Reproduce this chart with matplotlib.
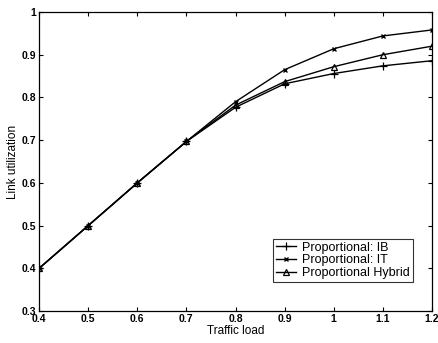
import numpy as np
import matplotlib.pyplot as plt

plt.rcParams['font.family'] = ['Liberation Sans', 'DejaVu Sans']

# traffic load vs. link utilization for the three schemes
load = [0.4, 0.5, 0.6, 0.7, 0.8, 0.9, 1.0, 1.1, 1.2]
util_ib = [0.40, 0.50, 0.60, 0.697, 0.777, 0.832, 0.856, 0.874, 0.886]
util_it = [0.40, 0.50, 0.60, 0.697, 0.790, 0.865, 0.914, 0.944, 0.958]
util_hybrid = [0.40, 0.50, 0.60, 0.697, 0.782, 0.837, 0.872, 0.900, 0.920]

xticks = [0.4, 0.5, 0.6, 0.7, 0.8, 0.9, 1, 1.1, 1.2]
xtick_labels = ["0.4", "0.5", "0.6", "0.7", "0.8", "0.9", "1", "1.1", "1.2"]
yticks = [0.3, 0.4, 0.5, 0.6, 0.7, 0.8, 0.9, 1]
ytick_labels = ["0.3", "0.4", "0.5", "0.6", "0.7", "0.8", "0.9", "1"]

fig = plt.figure(figsize=(4.39, 3.43), dpi=100)
ax = fig.add_axes([0.089, 0.093, 0.895, 0.872])

ax.plot(load, util_ib, color='k', lw=1.0, marker='+', ms=6, mew=0.9,
        label="Proportional: IB")
ax.plot(load, util_it, color='k', lw=1.0, marker='x', ms=3.5, mew=1.0,
        label="Proportional: IT")
ax.plot(load, util_hybrid, color='k', lw=1.0, marker='^', ms=5, mew=0.9,
        mfc='none', label="Proportional Hybrid")

ax.set_xlim(0.4, 1.2)
ax.set_ylim(0.3, 1.0)
ax.set_xticks(xticks)
ax.set_xticklabels(xtick_labels, fontsize=7.5, fontweight='bold')
ax.set_yticks(yticks)
ax.set_yticklabels(ytick_labels, fontsize=7.5, fontweight='bold')
ax.tick_params(direction='in', length=3, width=0.8, top=True, right=True, pad=2)
for s in ax.spines.values():
    s.set_linewidth(0.9)

ax.set_xlabel("Traffic load", fontsize=8.5, labelpad=1)
ax.set_ylabel("Link utilization", fontsize=8.5, labelpad=2)

leg = ax.legend(loc='lower right', bbox_to_anchor=(0.952, 0.097), fontsize=9,
                frameon=True, fancybox=False, edgecolor='k', handlelength=1.6,
                handletextpad=0.5, borderpad=0.25, labelspacing=0.05,
                borderaxespad=0.0)
leg.get_frame().set_linewidth(0.8)

fig.savefig("out.png", dpi=100)
